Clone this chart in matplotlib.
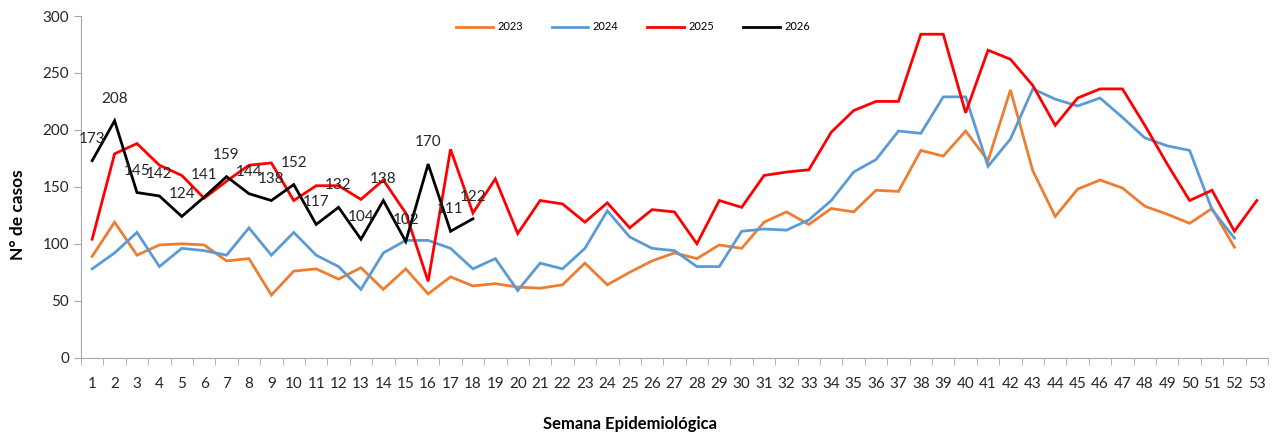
import matplotlib
matplotlib.use("Agg")
from matplotlib import pyplot as plt

plt.rcParams['font.family'] = ['Lato', 'DejaVu Sans']

semanas = list(range(1, 54))

casos_2023 = [89, 119, 90, 99, 100, 99, 85, 87, 55, 76, 78, 69, 79, 60, 78, 56,
              71, 63, 65, 62, 61, 64, 83, 64, 75, 85, 92, 87, 99, 96, 119, 128,
              117, 131, 128, 147, 146, 182, 177, 199, 173, 235, 164, 124, 148,
              156, 149, 133, 126, 118, 131, 97]
casos_2024 = [78, 92, 110, 80, 96, 94, 90, 114, 90, 110, 90, 80, 60, 92, 103, 103,
              96, 78, 87, 59, 83, 78, 96, 129, 106, 96, 94, 80, 80, 111, 113, 112,
              121, 138, 163, 174, 199, 197, 229, 229, 168, 192, 236, 227, 221,
              228, 211, 193, 186, 182, 130, 105]
casos_2025 = [104, 179, 188, 169, 160, 140, 155, 169, 171, 138, 151, 151, 139, 156,
              127, 67, 183, 127, 157, 109, 138, 135, 119, 136, 114, 130, 128, 100,
              138, 132, 160, 163, 165, 198, 217, 225, 225, 284, 284, 215, 270, 262,
              239, 204, 228, 236, 236, 204, 170, 138, 147, 111, 138]
casos_2026 = [173, 208, 145, 142, 124, 141, 159, 144, 138, 152, 117, 132, 104, 138,
              102, 170, 111, 122]

series = [("2023", casos_2023, "#ED7D31"),
          ("2024", casos_2024, "#5B9BD5"),
          ("2025", casos_2025, "#FF0000"),
          ("2026", casos_2026, "#000000")]

fig = plt.figure(figsize=(12.77, 4.36), dpi=100)
ax = fig.add_axes([81 / 1277, 78.3 / 436, 1187 / 1277, 341.7 / 436])

for nombre, valores, color in series:
    ax.plot(semanas[:len(valores)], valores, color=color, lw=2.0, label=nombre,
            solid_joinstyle='miter')

# etiquetas de 2026
for s, v in zip(semanas, casos_2026):
    ax.annotate(str(v), (s, v), xytext=(0, 22), textcoords='offset pixels',
                ha='center', va='center', fontsize=11, color='#262626')

ax.set_xlim(0.5, 53.5)
ax.set_ylim(0, 300)
ax.set_yticks(range(0, 301, 50))
ax.set_xticks(semanas)
ax.set_xticks([s + 0.5 for s in range(0, 54)], minor=True)
ax.tick_params(axis='x', which='major', length=0, pad=14, labelsize=11, colors='#262626')
ax.tick_params(axis='x', which='minor', length=5, color='#A6A6A6', direction='out')
ax.tick_params(axis='y', length=5, color='#A6A6A6', labelsize=11, labelcolor='#262626')

for lado in ['top', 'right']:
    ax.spines[lado].set_visible(False)
for lado in ['left', 'bottom']:
    ax.spines[lado].set_color('#A6A6A6')

ax.set_xlabel('Semana Epidemiológica', fontsize=12, fontweight='bold')
ax.xaxis.set_label_coords((630 - 81) / 1187, -58 / 341.7)
ax.set_ylabel('N° de casos', fontsize=12.5, fontweight='bold')
ax.yaxis.set_label_coords(-(81 - 26) / 1187, 0.5 - 28 / 341.7)

fig.legend(loc='center', bbox_to_anchor=(633 / 1277, 1 - 27 / 436), ncol=4,
           frameon=False, fontsize=8, handlelength=3.3, columnspacing=2.6,
           handletextpad=0.4)

fig.savefig('out.png', dpi=100)
